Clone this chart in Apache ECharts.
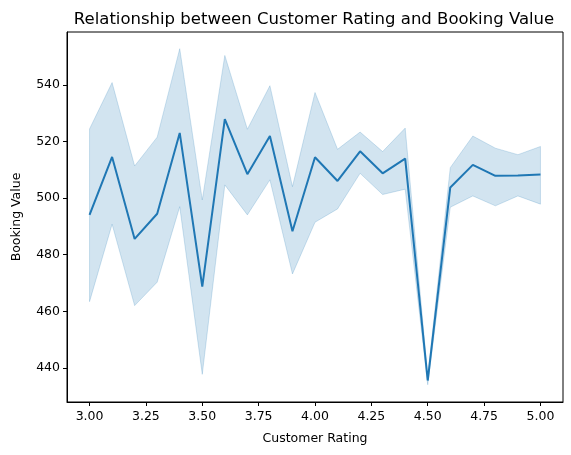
<!DOCTYPE html>
<html>
<head>
    <meta http-equiv="Content-Type" content="text/html; charset=utf-8">
    <title>Customer Rating vs Booking Value</title>
    <style>
        html, body { margin: 0; padding: 0; background: #fff; }
        #main { width: 571px; height: 455px; }
    </style>
</head>
<body>
    <div id="main"></div>
    <script src="https://cdn.jsdelivr.net/npm/echarts@6/dist/echarts.min.js"></script>
    <script>
    // ratings on the x axis
    var ratings = [3.0, 3.1, 3.2, 3.3, 3.4, 3.5, 3.6, 3.7, 3.8, 3.9, 4.0,
                   4.1, 4.2, 4.3, 4.4, 4.5, 4.6, 4.7, 4.8, 4.9, 5.0];
    // mean booking value
    var meanValues = [494.1, 514.6, 485.6, 494.5, 523.1, 468.7, 528.0, 508.5, 522.0, 488.3, 514.5,
                      506.1, 516.6, 508.8, 514.0, 435.5, 503.8, 511.8, 507.9, 508.0, 508.4];
    // confidence band
    var upperValues = [524.5, 540.9, 511.4, 521.6, 552.9, 499.4, 550.5, 524.4, 539.8, 504.1, 537.4,
                       517.3, 523.4, 516.5, 524.8, 437.0, 510.8, 522.0, 517.7, 515.4, 518.3];
    var lowerValues = [463.4, 490.8, 462.0, 470.3, 497.0, 437.7, 504.7, 494.1, 506.5, 473.2, 491.5,
                       496.2, 508.8, 501.3, 503.2, 434.0, 496.8, 500.8, 497.3, 500.8, 497.9];
    var xTicks = [3.0, 3.25, 3.5, 3.75, 4.0, 4.25, 4.5, 4.75, 5.0];
    var yTicks = [440, 460, 480, 500, 520, 540];

    var lineColor = '#1f77b4';
    var bandColor = 'rgba(31,119,180,0.2)';
    var fontFamily = 'DejaVu Sans';

    var meanData = [], bandData = [];
    for (var i = 0; i < ratings.length; i++) {
        meanData.push([ratings[i], meanValues[i]]);
        bandData.push([ratings[i], lowerValues[i], upperValues[i]]);
    }

    // whole band drawn as one polygon so the alpha doesn't overlap
    function renderBand(params, api) {
        if (params.dataIndex !== 0) return;
        var pts = [];
        for (var k = 0; k < ratings.length; k++) {
            pts.push(api.coord([ratings[k], upperValues[k]]));
        }
        for (var k = ratings.length - 1; k >= 0; k--) {
            pts.push(api.coord([ratings[k], lowerValues[k]]));
        }
        return {
            type: 'polygon',
            shape: { points: pts },
            style: { fill: bandColor, stroke: bandColor, lineWidth: 1 }
        };
    }

    var option = {
        animation: false,
        backgroundColor: '#fff',
        title: {
            text: 'Relationship between Customer Rating and Booking Value',
            left: 309, top: 6, textAlign: 'center',
            textStyle: { fontFamily: fontFamily, fontSize: 16.5, fontWeight: 'normal', color: '#000' }
        },
        grid: { left: 67, right: 8, top: 32, bottom: 53, containLabel: false },
        xAxis: {
            type: 'value',
            min: 2.9, max: 5.1,
            name: 'Customer Rating',
            nameLocation: 'middle', nameGap: 30,
            nameTextStyle: { fontFamily: fontFamily, fontSize: 12.5, color: '#000' },
            axisLine: { onZero: false, lineStyle: { color: '#000', width: 1 } },
            axisTick: { show: true, length: 4, inside: false, customValues: xTicks, lineStyle: { color: '#000' } },
            axisLabel: {
                customValues: xTicks, margin: 8,
                fontFamily: fontFamily, fontSize: 12.5, color: '#000',
                formatter: function (v) { return v.toFixed(2); }
            },
            splitLine: { show: false }
        },
        yAxis: {
            type: 'value',
            min: 427.9, max: 558.8,
            name: 'Booking Value',
            nameLocation: 'middle', nameGap: 44,
            nameTextStyle: { fontFamily: fontFamily, fontSize: 12.5, color: '#000' },
            axisLine: { show: true, onZero: false, lineStyle: { color: '#000', width: 1 } },
            axisTick: { show: true, length: 4, customValues: yTicks, lineStyle: { color: '#000' } },
            axisLabel: {
                customValues: yTicks, margin: 7,
                fontFamily: fontFamily, fontSize: 12.5, color: '#000'
            },
            splitLine: { show: false }
        },
        // frame on top and right like matplotlib spines
        graphic: [{
            type: 'rect',
            shape: { x: 67, y: 32, width: 496, height: 370 },
            style: { fill: 'none', stroke: '#000', lineWidth: 1 },
            silent: true, z: 100
        }],
        series: [
            {
                name: 'band',
                type: 'custom',
                data: bandData,
                renderItem: renderBand,
                encode: { x: 0, y: [1, 2] },
                z: 1
            },
            {
                name: 'Booking Value',
                type: 'line',
                data: meanData,
                symbol: 'none',
                lineStyle: { color: lineColor, width: 2 },
                z: 3
            }
        ]
    };

    var myChart = echarts.init(document.getElementById('main'));
    myChart.setOption(option);
    </script>
</body>
</html>
